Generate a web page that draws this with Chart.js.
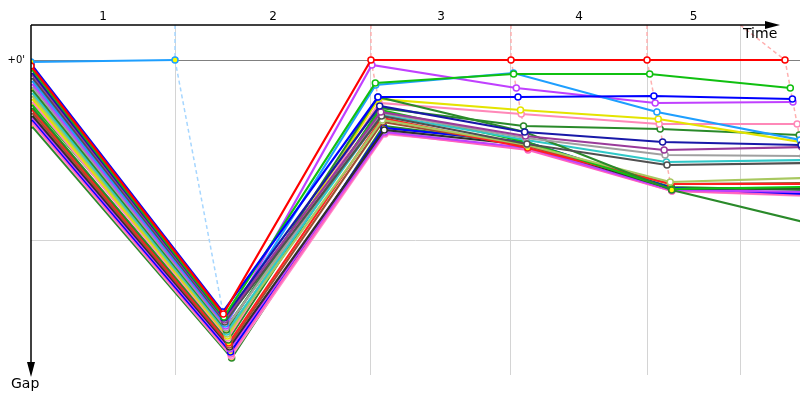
<!DOCTYPE html>
<html>
<head>
<meta charset="utf-8">
<script src="https://cdn.jsdelivr.net/npm/chart.js@4.4.0/dist/chart.umd.min.js"></script>
<style>
  html, body { margin: 0; padding: 0; background: #fff; }
  #wrap { width: 800px; height: 400px; }
</style>
</head>
<body>
<div id="wrap"><canvas id="gapChart" width="800" height="400"></canvas></div>
<script>
// stage numbers written along the time axis
const stageLabels = ['1', '2', '3', '4', '5'];
// time (s) of the line that closes each stage
const stageLines = [758, 1789, 2526, 3242, 3732];
// time (s) at which the leader passes: start, stage 1..5
const leaderTimes = [0, 758, 1789, 2526, 3242, 3968];
// gap ticks (s) and their labels
const gapTicks = [0, 180];
const gapTickLabels = ["+0'", ''];

// gaps (s) for each rider: start, stage 1, 2, 3, 4, 5
const lightBlueA = [2, 0];
const blueA      = [4, 252, 37, 37, 36, 39];
const redLeader  = [6, 254, 0, 0, 0, 0];
const greenA     = [8, 257, 23, 14, 14, 28];
const navy       = [11, 258, 46, 72, 82, 85];
const purple     = [13, 260, 52, 76, 90, 87];
const darkGray   = [16, 262, 56, 84, 105, 103];
const lightBlueB = [19, 264, 25, 13, 52, 80];
const magentaA   = [22, 266, 5, 28, 43, 42];
const gray       = [25, 268, 53, 78, 95, 96];
const forestA    = [28, 270, 37, 72, 130, 165];
const teal       = [31, 272, 55, 80, 102, 100];
const olive      = [34, 274, 60, 85, 122, 118];
const yellow     = [37, 276, 39, 50, 59, 82];
const pink       = [40, 278, 43, 54, 64, 64];
const greenB     = [43, 268, 50, 82, 129, 127];
const forestB    = [46, 280, 48, 66, 69, 75];
const redB       = [48, 283, 58, 88, 124, 124];
const brown      = [51, 285, 62, 86, 124, 123];
const black      = [54, 287, 70, 85, 129, 128];
const magentaB   = [56, 289, 72, 88, 130, 132];
const blueB      = [58, 292, 68, 82, 128, 134];
const hotPink    = [60, 294, 73, 90, 131, 135];
const lightPink  = [62, 296, 74, 88, 131, 136];
const forestC    = [65, 298, 66, 84, 127, 130];

const series = [redLeader, lightBlueA, blueA, greenA, navy, purple, darkGray, lightBlueB,
  magentaA, gray, forestA, teal, olive, yellow, pink, greenB, forestB, redB, brown,
  black, magentaB, blueB, hotPink, lightPink, forestC];
const seriesColors = ['#ff0000', '#1e9fff', '#0000ff', '#10c010', '#1818a8', '#9a3a9a',
  '#505050', '#1e9fff', '#c040ff', '#a0a0a0', '#2a8a2a', '#30c8c8', '#a8c860', '#e4e400',
  '#ff88b8', '#10c010', '#2a8a2a', '#ff2020', '#a05030', '#303030', '#c040ff', '#0000ff',
  '#ff60c0', '#ff90c8', '#2a8a2a'];
// riders whose markers are filled yellow
const yellowFilled = [lightBlueA, forestA, greenB, redB, blueB, forestC];

const datasets = [];

series.forEach((gaps, r) => {
  datasets.push({
    data: gaps.map((g, i) => ({ x: i === 0 ? 0 : leaderTimes[i] + g, y: g })),
    borderColor: seriesColors[r],
    pointBorderColor: seriesColors[r],
    pointBackgroundColor: yellowFilled.includes(gaps) ? '#ffff00' : '#ffffff',
    borderWidth: 2.2,
    pointRadius: 3,
    pointBorderWidth: 1.5,
    showLine: true,
    order: 1
  });
});

// dashed checkpoint lines joining the riders at each stage end
for (let k = 1; k <= 5; k++) {
  const pts = series.filter(s => s.length > k)
    .map(s => ({ x: leaderTimes[k] + s[k], y: s[k] }))
    .sort((a, b) => a.y - b.y);
  pts.unshift({ x: stageLines[k - 1], y: -35 });
  datasets.push({
    data: pts,
    borderColor: k === 1 ? '#a6d6ff' : '#ffb0b0',
    borderWidth: 1.5,
    borderDash: [4, 3],
    pointRadius: 0,
    showLine: true,
    order: 2
  });
}

const axesPlugin = {
  id: 'axes',
  afterDatasetsDraw(chart) {
    const { ctx, chartArea: a, scales } = chart;
    ctx.save();
    ctx.strokeStyle = '#000';
    ctx.fillStyle = '#000';
    ctx.lineWidth = 1.5;

    // time axis with arrow
    ctx.beginPath();
    ctx.moveTo(a.left, a.top);
    ctx.lineTo(767, a.top);
    ctx.stroke();
    ctx.beginPath();
    ctx.moveTo(765, a.top - 4);
    ctx.lineTo(780, a.top);
    ctx.lineTo(765, a.top + 4);
    ctx.closePath();
    ctx.fill();

    // gap axis with arrow
    ctx.beginPath();
    ctx.moveTo(a.left, a.top);
    ctx.lineTo(a.left, 364);
    ctx.stroke();
    ctx.beginPath();
    ctx.moveTo(a.left - 4, 362);
    ctx.lineTo(a.left, 377);
    ctx.lineTo(a.left + 4, 362);
    ctx.closePath();
    ctx.fill();

    ctx.font = '14px "DejaVu Sans"';
    ctx.textBaseline = 'top';
    ctx.textAlign = 'left';
    ctx.fillText('Time', 743, 27);
    ctx.fillText('Gap', 11, 377);

    // stage numbers centred between stage lines
    const edges = [a.left].concat(stageLines.map(t => scales.x.getPixelForValue(t)));
    ctx.font = '12px "DejaVu Sans"';
    ctx.textAlign = 'center';
    ctx.textBaseline = 'middle';
    stageLabels.forEach((lab, i) => {
      ctx.fillText(lab, (edges[i] + edges[i + 1]) / 2, 17);
    });
    ctx.restore();
  }
};

new Chart(document.getElementById('gapChart'), {
  type: 'scatter',
  data: { datasets },
  options: {
    responsive: false,
    animation: false,
    layout: { autoPadding: false, padding: { top: 0, right: 0, bottom: 25, left: 0 } },
    plugins: { legend: { display: false }, tooltip: { enabled: false } },
    scales: {
      x: {
        type: 'linear',
        position: 'top',
        min: 0,
        max: 4047,
        afterBuildTicks: s => { s.ticks = stageLines.map(v => ({ value: v })); },
        afterFit: s => { s.height = 25; },
        ticks: { display: false },
        border: { display: false },
        grid: { color: '#d4d4d4', lineWidth: 1, drawTicks: false }
      },
      y: {
        type: 'linear',
        reverse: true,
        min: -35,
        max: 315,
        afterBuildTicks: s => { s.ticks = gapTicks.map(v => ({ value: v })); },
        afterFit: s => { s.width = 31; },
        ticks: {
          padding: 6,
          color: '#000',
          font: { family: 'DejaVu Sans', size: 10 },
          callback: (v) => gapTickLabels[gapTicks.indexOf(v)]
        },
        border: { display: false },
        grid: {
          color: ctx => ctx.tick && ctx.tick.value === 0 ? '#808080' : '#d4d4d4',
          lineWidth: 1,
          drawTicks: false
        }
      }
    }
  },
  plugins: [axesPlugin]
});
</script>
</body>
</html>
